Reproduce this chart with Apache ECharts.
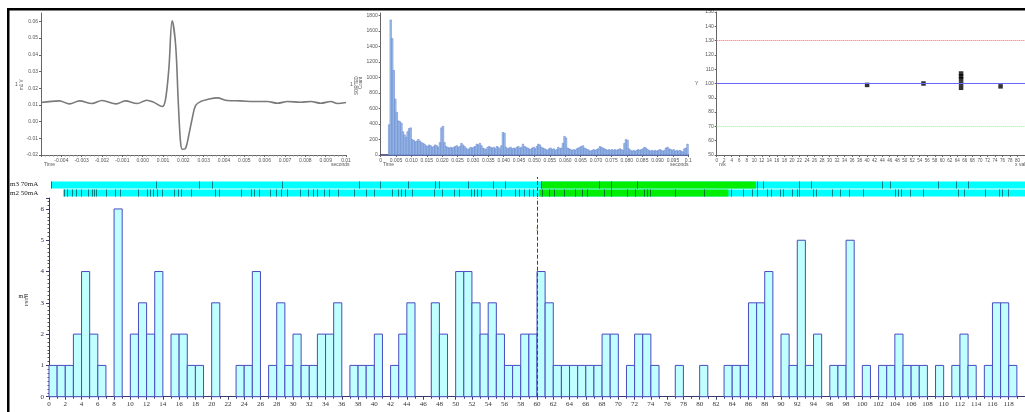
<!DOCTYPE html>
<html><head><meta charset="utf-8">
<script src="https://cdn.jsdelivr.net/npm/echarts@6/dist/echarts.min.js"></script>
<style>html,body{margin:0;padding:0;background:#fff;overflow:hidden}#c{width:1025px;height:412px}</style>
</head><body><div id="c"></div>
<script>
// ---- Waveform (top-left) ----
const waveT = [-0.005,-0.0041,-0.0036,-0.0031,-0.0025,-0.002,-0.0013,-0.00085,-0.00027,0.0002,0.00055,0.00096,0.00112,0.00129,0.00145,0.00162,0.00175,0.00186,0.00195,0.00211,0.00227,0.00244,0.0026,0.00285,0.00318,0.00367,0.00416,0.00482,0.00547,0.00613,0.00663,0.00712,0.00777,0.00827,0.00876,0.00925,0.00958,0.01];
const waveV = [0.0114,0.0124,0.0106,0.0124,0.0108,0.0126,0.0106,0.0124,0.0108,0.0128,0.0115,0.009,0.013,0.032,0.0604,0.046,0.012,-0.012,-0.0166,-0.016,-0.008,0.002,0.0096,0.012,0.0132,0.0142,0.0126,0.0124,0.012,0.012,0.011,0.012,0.0116,0.012,0.011,0.012,0.0108,0.0114];
// ---- Interval histogram (top-middle), 0.5 ms bins ----
const histBin = 0.0005;
const histCounts = [0,0,0,0,0,390,1740,1500,1090,720,550,440,430,410,300,260,230,300,340,350,
200,190,170,180,200,180,160,150,140,120,110,130,120,100,110,130,120,100,160,350,
370,160,110,100,90,100,90,100,110,120,100,110,150,130,110,90,70,80,100,90,
100,110,140,130,150,120,90,80,70,100,110,100,90,100,80,110,100,80,120,290,
280,100,80,90,100,80,90,80,100,110,90,100,140,110,100,90,80,70,90,100,
80,110,140,130,100,90,80,70,60,80,90,70,80,60,70,100,80,90,150,240,
220,90,80,70,60,70,60,80,90,100,110,120,90,80,70,60,50,60,70,60,
70,80,110,100,90,80,70,60,70,60,70,60,70,60,70,80,70,60,150,200,
190,80,60,50,60,50,60,70,60,70,80,100,90,70,60,50,60,50,60,50,
60,70,60,50,60,90,100,80,70,60,70,50,60,50,60,50,40,80,90,140];
// ---- Scatter (top-right) ----
const scatX = [40,55,65,65,65,65,65,75.5];
const scatY = [99,100,107,105,100,97,103,98];
const refHigh = 130, refMid = 100, refLow = 70;
// ---- PSTH (main) ----
const psthCounts = [1,1,1,2,4,2,1,0,6,0,2,3,2,4,0,2,2,1,1,0,3,0,0,1,1,4,0,1,3,1,2,1,1,2,2,3,0,1,1,1,2,0,1,2,3,0,0,3,2,0,4,4,3,2,3,2,1,1,2,2,4,3,1,1,1,1,1,1,2,2,0,1,2,2,1,0,0,1,0,0,1,0,0,1,1,1,3,3,4,0,2,1,5,1,2,0,1,1,5,0,1,0,1,1,2,1,1,1,0,1,0,1,2,1,0,1,3,3,1];
const psthTicks = {min:0, max:120, step:2};
const markerX = 60;
const markerLabel = '1';
// ---- Raster rows ----
const m3Start = 0.24, m2Start = 1.74, rowEnd = 125;
const m3Green = [60.49, 86.91];
const m2Green = [60.28, 83.54];
const m3Events = [0.24,13.13,18.41,20.04,28.70,38.13,40.65,44.15,47.40,47.96,51.55,54.60,56.01,60.49,67.68,69.15,72.35,87.11,87.80,92.20,93.70,102.44,103.38,109.35,111.50,113.05];
const m2Events = [1.87,2.16,2.77,3.29,3.90,4.79,5.33,5.52,5.82,6.95,8.17,8.74,10.89,11.99,12.40,12.80,13.29,13.86,15.37,15.85,16.26,17.52,20.37,20.85,23.62,24.79,25.21,25.85,27.15,27.89,28.50,29.30,30.82,31.83,32.44,32.96,33.86,34.47,35.57,37.52,39.02,39.96,42.19,42.93,43.33,43.82,44.63,47.35,48.29,49.84,50.45,51.83,52.28,52.68,53.17,55.00,55.61,57.35,57.84,58.45,59.06,59.55,60.57,61.50,62.04,63.26,64.67,65.57,66.10,68.21,69.15,71.06,72.07,73.21,73.50,73.90,76.95,80.49,83.87,85.37,86.43,86.99,88.26,88.74,89.88,90.21,91.38,91.91,92.23,93.94,94.35,96.26,97.20,98.38,100.04,104.06,104.39,104.72,105.89,107.44,111.79,112.52,115.08,116.79,117.20,117.93];

const chart = echarts.init(document.getElementById('c'), null, {renderer:'canvas'});
const sm = {fontSize:5, color:'#555', fontFamily:'Liberation Sans'};
const serif = 'Liberation Serif';

function rowRect(api, x0, x1, row) {
  const a = api.coord([x0, row + 0.05]);
  const b = api.coord([x1, row + 0.95]);
  return {x:a[0], y:b[1], width:b[0]-a[0], height:a[1]-b[1]};
}

const option = {
  animation:false,
  backgroundColor:'#fff',
  grid:[
    {left:41, top:13, width:305, height:142},
    {left:380.7, top:13, width:307.6, height:142},
    {left:716.7, top:12, width:310.8, height:143},
    {left:49, top:177, width:984, height:20},
    {left:49, top:198, width:984, height:198.7}
  ],
  xAxis:[
    {gridIndex:0, type:'value', min:-0.005, max:0.01, interval:0.001,
     axisLine:{onZero:false, lineStyle:{color:'#666'}}, axisTick:{length:2,lineStyle:{color:'#666'}},
     minorTick:{show:true, splitNumber:5, length:1.5, lineStyle:{color:'#888'}},
     splitLine:{show:false},
     axisLabel:{...sm, margin:3, showMinLabel:false, formatter:v=>Math.abs(v-0.01)<1e-9?'0.01':v.toFixed(3)}},
    {gridIndex:1, type:'value', min:0, max:0.1, interval:0.005,
     axisLine:{onZero:false, lineStyle:{color:'#30306a', width:1.5}}, axisTick:{length:2,lineStyle:{color:'#666'}},
     splitLine:{show:false},
     axisLabel:{...sm, margin:3, formatter:v=>v===0?'0':(Math.abs(v-0.1)<1e-9?'0.1':v.toFixed(3))}},
    {gridIndex:2, type:'value', min:0, max:82, interval:2,
     axisLine:{onZero:false, lineStyle:{color:'#666'}}, axisTick:{length:2,lineStyle:{color:'#666'}},
     splitLine:{show:false},
     axisLabel:{...sm, fontSize:4.5, margin:3, showMaxLabel:false}},
    {gridIndex:3, type:'value', min:psthTicks.min, max:psthTicks.max, show:false},
    {gridIndex:4, type:'value', min:psthTicks.min, max:psthTicks.max, interval:psthTicks.step,
     axisLine:{onZero:false, lineStyle:{color:'#3a3a6a'}}, axisTick:{length:3,lineStyle:{color:'#3a3a6a'}},
     minorTick:{show:true, splitNumber:2, length:2, lineStyle:{color:'#3a3a6a'}},
     splitLine:{show:false},
     axisLabel:{fontSize:7, color:'#333', fontFamily:serif, margin:4, showMaxLabel:false}}
  ],
  yAxis:[
    {gridIndex:0, type:'value', min:-0.02, max:0.065, interval:0.01,
     axisLine:{show:true, onZero:false, lineStyle:{color:'#666'}}, axisTick:{show:true,length:2,lineStyle:{color:'#666'}},
     splitLine:{show:false},
     axisLabel:{...sm, margin:3, showMaxLabel:false, formatter:v=>v.toFixed(2)}},
    {gridIndex:1, type:'value', min:0, max:1830, interval:200,
     axisLine:{show:true, onZero:false, lineStyle:{color:'#666'}}, axisTick:{show:true,length:2,lineStyle:{color:'#666'}},
     splitLine:{show:false},
     axisLabel:{...sm, margin:3, showMaxLabel:false, formatter:v=>String(v)}},
    {gridIndex:2, type:'value', min:50, max:150, interval:10,
     axisLine:{show:true, onZero:false, lineStyle:{color:'#666'}}, axisTick:{show:true,length:2,lineStyle:{color:'#666'}},
     splitLine:{show:false},
     axisLabel:{...sm, margin:3}},
    {gridIndex:3, type:'value', min:0, max:2.5, show:false},
    {gridIndex:4, type:'value', min:0, max:6.35, interval:1,
     axisLine:{show:true, onZero:false, lineStyle:{color:'#3a3a6a'}}, axisTick:{show:true,length:3,lineStyle:{color:'#3a3a6a'}},
     minorTick:{show:true, splitNumber:8, length:1.5, lineStyle:{color:'#555'}},
     splitLine:{show:false},
     axisLabel:{fontSize:7, color:'#333', fontFamily:serif, margin:5, showMaxLabel:false}}
  ],
  series:[
    {type:'line', xAxisIndex:0, yAxisIndex:0, data:waveT.map((t,i)=>[t,waveV[i]]),
     smooth:0.35, symbol:'none', lineStyle:{color:'#7a7a7a', width:1.6}},
    {type:'custom', xAxisIndex:1, yAxisIndex:1,
     data:histCounts.map((c,i)=>[i*histBin,(i+1)*histBin,c]),
     encode:{x:[0,1], y:2},
     renderItem:(p,api)=>{
       const c=api.value(2); if(!c) return null;
       const a=api.coord([api.value(0),0]), b=api.coord([api.value(1),c]);
       return {type:'rect', shape:{x:a[0], y:b[1], width:b[0]-a[0], height:a[1]-b[1]},
         style:{fill:'#a4c8ee', stroke:'#5a78c8', lineWidth:0.5}};
     }},
    {type:'scatter', xAxisIndex:2, yAxisIndex:2, data:scatX.map((x,i)=>[x,scatY[i]]),
     symbol:'rect', symbolSize:4.5, itemStyle:{color:'#000'},
     markLine:{silent:true, symbol:'none', label:{show:false},
       data:[
         {yAxis:refHigh, lineStyle:{color:'#ff6060', type:'dotted', width:1}},
         {yAxis:refMid, lineStyle:{color:'#6868ff', type:'solid', width:1}},
         {yAxis:refLow, lineStyle:{color:'#80ff80', type:'dotted', width:1}}
       ]}},
    {type:'custom', xAxisIndex:3, yAxisIndex:3,
     data:[[m2Start,rowEnd,0],[m3Start,rowEnd,1]],
     encode:{x:[0,1], y:2},
     renderItem:(p,api)=>({type:'rect', shape:rowRect(api, api.value(0), api.value(1), api.value(2)), style:{fill:'#00ffff'}})},
    {type:'custom', xAxisIndex:3, yAxisIndex:3,
     data:[[m2Green[0],m2Green[1],0],[m3Green[0],m3Green[1],1]],
     encode:{x:[0,1], y:2},
     renderItem:(p,api)=>({type:'rect', shape:rowRect(api, api.value(0), api.value(1), api.value(2)), style:{fill:'#00ee00'}})},
    {type:'custom', xAxisIndex:3, yAxisIndex:3,
     data:m2Events.map(t=>[t,0]).concat(m3Events.map(t=>[t,1])),
     encode:{x:0, y:1},
     renderItem:(p,api)=>{
       const r=rowRect(api, api.value(0), api.value(0), api.value(1));
       const x=Math.round(r.x)+0.5;
       return {type:'line', shape:{x1:x, y1:r.y, x2:x, y2:r.y+r.height}, style:{stroke:'rgba(0,60,60,0.65)', lineWidth:1}};
     },
     markLine:{silent:true, symbol:'none', label:{show:false}, lineStyle:{color:'#444', type:'dashed', width:1},
       data:[{xAxis:markerX}]}},
    {type:'custom', xAxisIndex:4, yAxisIndex:4,
     data:psthCounts.map((c,i)=>[i,i+1,c]),
     encode:{x:[0,1], y:2},
     renderItem:(p,api)=>{
       const c=api.value(2); if(!c) return null;
       const a=api.coord([api.value(0),0]), b=api.coord([api.value(1),c]);
       return {type:'rect', shape:{x:a[0], y:b[1], width:b[0]-a[0], height:a[1]-b[1]},
         style:{fill:'#c0ffff', stroke:'#4a4ac0', lineWidth:1}};
     },
     markLine:{silent:true, symbol:'none', label:{show:false}, lineStyle:{color:'#444', type:'dashed', width:1},
       data:[{xAxis:markerX}]}},
    {type:'scatter', xAxisIndex:4, yAxisIndex:4, data:[[markerX,5.35]], symbolSize:0,
     label:{show:true, position:'inside', formatter:markerLabel, fontSize:7, color:'#8a6a30', fontFamily:serif}}
  ],
  graphic:[
    {type:'rect', shape:{x:7, y:8, width:1018, height:2.5}, style:{fill:'#000'}, z:100},
    {type:'rect', shape:{x:7, y:8, width:2.5, height:404}, style:{fill:'#000'}, z:100},
    {type:'text', x:10, y:181, style:{text:'m3 70mA', fontSize:7, fontFamily:serif, fill:'#222'}},
    {type:'text', x:10, y:189.5, style:{text:'m2 50mA', fontSize:7, fontFamily:serif, fill:'#222'}},
    {type:'text', x:18.5, y:293, style:{text:'m1', fontSize:6, fontFamily:serif, fill:'#222'}},
    {type:'text', x:24, y:306, rotation:Math.PI/2, style:{text:'PSTH', fontSize:5, fontFamily:serif, fill:'#222'}},
    {type:'text', x:44, y:162, style:{text:'Time', fontSize:5, fontFamily:'Liberation Sans', fill:'#555'}},
    {type:'text', x:331, y:162, style:{text:'seconds', fontSize:5, fontFamily:'Liberation Sans', fill:'#555'}},
    {type:'text', x:383, y:162, style:{text:'Time', fontSize:5, fontFamily:'Liberation Sans', fill:'#555'}},
    {type:'text', x:670, y:162, style:{text:'seconds', fontSize:5, fontFamily:'Liberation Sans', fill:'#555'}},
    {type:'text', x:719, y:162, style:{text:'n/k', fontSize:5, fontFamily:'Liberation Sans', fill:'#555'}},
    {type:'text', x:1015, y:162, style:{text:'x vals', fontSize:5, fontFamily:'Liberation Sans', fill:'#555'}},
    {type:'text', x:15, y:82, style:{text:'1', fontSize:5, fontFamily:'Liberation Sans', fill:'#555'}},
    {type:'text', x:19, y:90, rotation:Math.PI/2, style:{text:'m1 V', fontSize:4.5, fontFamily:'Liberation Sans', fill:'#555'}},
    {type:'text', x:350, y:82, style:{text:'1', fontSize:5, fontFamily:'Liberation Sans', fill:'#555'}},
    {type:'text', x:354, y:95, rotation:Math.PI/2, style:{text:'SORTED', fontSize:4.5, fontFamily:'Liberation Sans', fill:'#555'}},
    {type:'text', x:358.5, y:89, rotation:Math.PI/2, style:{text:'Count', fontSize:4.5, fontFamily:'Liberation Sans', fill:'#555'}},
    {type:'text', x:695, y:81, style:{text:'Y', fontSize:5, fontFamily:'Liberation Sans', fill:'#555'}}
  ]
};
chart.setOption(option);
</script></body></html>
